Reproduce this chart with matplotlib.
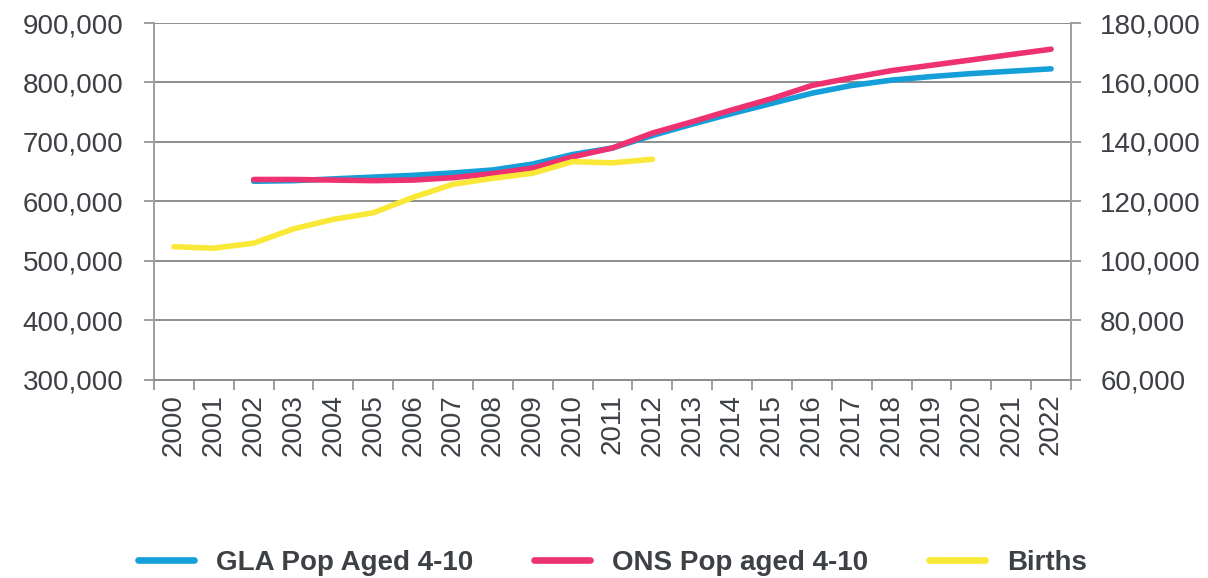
import matplotlib.pyplot as plt
import numpy as np
from matplotlib.ticker import FuncFormatter

plt.rcParams['font.family'] = ['Liberation Sans', 'DejaVu Sans']

years = [str(y) for y in range(2000, 2023)]

# GLA / ONS start in 2002, births end in 2012
gla_pop = [None, None, 634000, 635000, 638000, 641000, 644000, 648000, 653000, 663000,
           679000, 690000, 711000, 730000, 748000, 765000, 782000, 795000, 804000,
           810000, 815000, 819000, 823000]
ons_pop = [None, None, 637000, 637000, 636000, 635000, 636000, 640000, 647000, 656000,
           675000, 690000, 715000, 734000, 754000, 773000, 795000, 808000, 820000,
           829000, 838000, 847000, 856000]
births = [104800, 104300, 106000, 110800, 114000, 116200, 121400, 125800, 127800,
          129500, 133400, 133000, 134200, None, None, None, None, None, None, None,
          None, None, None]

BLUE = '#159fd9'
PINK = '#ee3171'
YELLOW = '#f9e936'
GREY = '#8e8e8e'
TEXT = '#3d4045'
FS = 20


def to_array(values):
    return np.array([np.nan if v is None else v for v in values], dtype=float)


fig = plt.figure(figsize=(12.08, 5.78), dpi=100)
ax = fig.add_axes([0.1275, 0.3426, 0.7591, 0.6176])
ax2 = ax.twinx()

x = np.arange(len(years))
lw = 4.0
ax.plot(x, to_array(gla_pop), color=BLUE, lw=lw, solid_capstyle='round', label='GLA Pop Aged 4-10', zorder=3)
ax.plot(x, to_array(ons_pop), color=PINK, lw=lw, solid_capstyle='round', label='ONS Pop aged 4-10', zorder=4)
ax2.plot(x, to_array(births), color=YELLOW, lw=lw, solid_capstyle='round', label='Births', zorder=3)

ax.set_xlim(-0.5, len(years) - 0.5)
ax.set_ylim(300000, 900000)
ax2.set_ylim(60000, 180000)
ax.set_yticks(np.arange(300000, 900001, 100000))
ax2.set_yticks(np.arange(60000, 180001, 20000))

fmt = FuncFormatter(lambda v, p: f'{int(v):,}')
ax.yaxis.set_major_formatter(fmt)
ax2.yaxis.set_major_formatter(fmt)

ax.set_xticks(x)
ax.set_xticklabels(years, rotation=90)
ax.set_xticks(np.arange(-0.5, len(years)), minor=True)
ax.tick_params(axis='x', which='major', length=0, pad=10, labelsize=FS, colors=TEXT)
ax.tick_params(axis='x', which='minor', length=7, width=1.2, color=GREY)
ax.tick_params(axis='y', length=7, width=1.2, color=GREY, labelsize=FS, labelcolor=TEXT, pad=15)
ax2.tick_params(axis='y', length=7, width=1.2, color=GREY, labelsize=FS, labelcolor=TEXT, pad=14)

ax.grid(axis='y', color=GREY, lw=1.4)
ax.set_axisbelow(True)
for a in (ax, ax2):
    a.spines['top'].set_visible(False)
    a.spines['bottom'].set_color(GREY)
    a.spines['left'].set_color('#a0a0a0')
    a.spines['right'].set_color('#a0a0a0')
    for s in a.spines.values():
        s.set_linewidth(1.4)

h1, l1 = ax.get_legend_handles_labels()
h2, l2 = ax2.get_legend_handles_labels()
leg = fig.legend(h1 + h2, l1 + l2, loc='center', bbox_to_anchor=(0.507, 0.026), ncol=3,
                 frameon=False, handlelength=2.0, handletextpad=0.8, columnspacing=2.2,
                 borderpad=0, prop={'weight': 'bold', 'size': FS}, labelcolor=TEXT)
for line in leg.get_lines():
    line.set_linewidth(4.8)

fig.savefig('out.png', dpi=100)
